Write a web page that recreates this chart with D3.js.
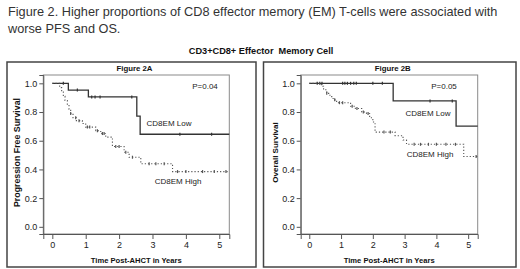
<!DOCTYPE html>
<html>
<head>
<meta charset="utf-8">
<script src="https://cdn.jsdelivr.net/npm/d3@7"></script>
<style>
  body { margin: 0; background: #fff; }
  svg { font-family: "Liberation Sans", Arial, sans-serif; }
</style>
</head>
<body>
<svg id="chart" width="520" height="269"></svg>
<script>
// ---- data ----
const headline = ["Figure 2. Higher proportions of CD8 effector memory (EM) T-cells were associated with",
                  "worse PFS and OS."]
const subtitle = "CD3+CD8+ Effector  Memory Cell"
const panelTitles = ["Figure 2A", "Figure 2B"]
const yTitles = ["Progression Free Survival", "Overall Survival"]
const xTitle = "Time Post-AHCT in Years"
const pValues = ["P=0.04", "P=0.05"]
const xTicks = [0, 1, 2, 3, 4, 5]
const yTicks = [0.0, 0.2, 0.4, 0.6, 0.8, 1.0]
const tMax = 5.3

// Figure 2A - PFS
const pfsLowTimes = [0, 0.48, 1.08, 2.53, 2.63]
const pfsLowSurv  = [1.0, 0.953, 0.905, 0.772, 0.645]
const pfsLowCens  = [0.33, 0.75, 1.18, 1.28, 1.43, 2.38, 3.82, 4.77]
const pfsHighTimes = [0, 0.22, 0.28, 0.33, 0.38, 0.45, 0.5, 0.55, 0.62, 0.72, 0.9, 1.0, 1.3, 1.45, 1.6, 1.8, 2.15, 2.3, 2.65, 3.6]
const pfsHighSurv  = [1.0, 0.97, 0.94, 0.91, 0.88, 0.85, 0.82, 0.79, 0.76, 0.74, 0.72, 0.695, 0.67, 0.65, 0.625, 0.56, 0.52, 0.485, 0.44, 0.385]
const pfsHighCens  = [0.55, 0.7, 0.8, 1.05, 1.12, 1.35, 1.5, 1.55, 1.9, 2.0, 2.2, 2.4, 2.9, 3.1, 3.35, 3.75, 4.0, 4.5, 4.85, 5.2]

// Figure 2B - OS
const osLowTimes = [0, 2.64, 4.62]
const osLowSurv  = [1.0, 0.877, 0.702]
const osLowCens  = [0.25, 0.33, 0.4, 1.05, 1.12, 1.2, 1.3, 1.4, 1.48, 2.0, 2.3, 3.8, 4.5]
const osHighTimes = [0, 0.38, 0.45, 0.55, 0.65, 0.75, 0.86, 1.3, 1.45, 1.65, 1.8, 1.9, 2.0, 2.07, 2.7, 2.95, 3.06, 4.86]
const osHighSurv  = [1.0, 0.98, 0.955, 0.93, 0.907, 0.885, 0.865, 0.84, 0.825, 0.8, 0.79, 0.76, 0.73, 0.66, 0.635, 0.605, 0.575, 0.49]
const osHighCens  = [0.55, 0.8, 0.95, 1.05, 1.35, 1.5, 1.7, 1.85, 2.35, 2.55, 3.3, 3.5, 3.75, 4.0, 4.3, 4.6, 5.25]

const groupLabels = ["CD8EM Low", "CD8EM High"]

// ---- layout ----
const panels = [
  { box: [7, 256], plot: [43.3, 229.3], yTitleSize: 8.8, yTitleX: 17,
    curves: [[pfsLowTimes, pfsLowSurv, pfsLowCens], [pfsHighTimes, pfsHighSurv, pfsHighCens]],
    labelPos: [[169, 123], [178, 181]], pPos: [205, 86] },
  { box: [263.5, 516], plot: [300.7, 477.7], yTitleSize: 8, yTitleX: 275,
    curves: [[osLowTimes, osLowSurv, osLowCens], [osHighTimes, osHighSurv, osHighCens]],
    labelPos: [[428, 113], [430, 154]], pPos: [444, 86] }
]
const boxTop = 62, boxBottom = 267
const plotTop = 75, plotBottom = 234

const svg = d3.select('#chart')

// headline - first line spans ~492px in the reference
const headTexts = svg.selectAll('text.headline').data(headline).join('text')
  .attr('class', 'headline')
  .attr('x', 8)
  .attr('y', (_, i) => 16 + 17 * i)
  .attr('fill', '#333')
  .style('font-size', '13px')
  .text(d => d)
const w0 = headTexts.node().getComputedTextLength()
headTexts.style('font-size', (13 * 490 / w0).toFixed(2) + 'px')

svg.append('text')
  .attr('x', 261).attr('y', 53.5)
  .attr('text-anchor', 'middle')
  .attr('fill', '#111')
  .style('font-size', '9.2px').style('font-weight', 'bold')
  .style('white-space', 'pre')
  .text(subtitle)

const y = d3.scaleLinear().domain([-0.05, 1.058]).range([plotBottom, plotTop])

// build step points from event times
function stepPoints(times, surv) {
  const pts = []
  times.forEach((t, i) => {
    if (i > 0) pts.push([t, surv[i - 1]])
    pts.push([t, surv[i]])
  })
  pts.push([tMax, surv[surv.length - 1]])
  return pts
}
function survAt(times, surv, t) {
  const i = d3.bisectRight(times, t) - 1
  return surv[Math.max(0, i)]
}

panels.forEach((p, k) => {
  const g = svg.append('g')
  const x = d3.scaleLinear().domain([-0.27, tMax]).range(p.plot)

  // outer panel box
  g.append('rect')
    .attr('x', p.box[0]).attr('y', boxTop)
    .attr('width', p.box[1] - p.box[0]).attr('height', boxBottom - boxTop)
    .attr('fill', '#fff').attr('stroke', '#444').attr('stroke-width', 1.5)

  // plot frame
  g.append('rect')
    .attr('x', p.plot[0]).attr('y', plotTop)
    .attr('width', p.plot[1] - p.plot[0]).attr('height', plotBottom - plotTop)
    .attr('fill', 'none').attr('stroke', '#8a8a8a').attr('stroke-width', 1)

  // axes
  const yAxis = d3.axisLeft(y).tickValues(yTicks).tickFormat(d3.format('.1f')).tickSize(4).tickPadding(2)
  g.append('g').attr('transform', `translate(${p.plot[0]},0)`).call(yAxis)
    .call(a => a.select('.domain').attr('stroke', '#555'))
    .call(a => a.selectAll('line').attr('stroke', '#555'))
    .call(a => a.selectAll('text').attr('fill', '#222').style('font-size', '9px'))

  const xAxis = d3.axisBottom(x).tickValues(xTicks).tickFormat(d3.format('d')).tickSize(5).tickPadding(3)
  g.append('g').attr('transform', `translate(0,${plotBottom})`).call(xAxis)
    .call(a => a.select('.domain').attr('stroke', '#555'))
    .call(a => a.selectAll('line').attr('stroke', '#555'))
    .call(a => a.selectAll('text').attr('fill', '#222').style('font-size', '9px'))

  // titles
  g.append('text')
    .attr('x', (p.box[0] + p.box[1]) / 2 + 3).attr('y', 71)
    .attr('text-anchor', 'middle').attr('fill', '#111')
    .style('font-size', '7.8px').style('font-weight', 'bold')
    .text(panelTitles[k])

  g.append('text')
    .attr('x', (p.plot[0] + p.plot[1]) / 2).attr('y', 263)
    .attr('text-anchor', 'middle').attr('fill', '#111')
    .style('font-size', '7.6px').style('font-weight', 'bold')
    .text(xTitle)

  g.append('text')
    .attr('transform', `translate(${p.yTitleX},${(plotTop + plotBottom) / 2 - 2}) rotate(-90)`)
    .attr('text-anchor', 'middle').attr('dy', '0.35em').attr('fill', '#111')
    .style('font-size', p.yTitleSize + 'px').style('font-weight', 'bold')
    .text(yTitles[k])

  g.append('text')
    .attr('x', p.pPos[0]).attr('y', p.pPos[1] + 3)
    .attr('text-anchor', 'middle').attr('fill', '#222')
    .style('font-size', '8px')
    .text(pValues[k])

  // curves
  const line = d3.line().x(d => x(d[0])).y(d => y(d[1]))
  p.curves.forEach((c, j) => {
    const [times, surv, cens] = c
    const color = j === 0 ? '#333' : '#555'
    g.append('path')
      .datum(stepPoints(times, surv))
      .attr('d', line)
      .attr('fill', 'none')
      .attr('stroke', color)
      .attr('stroke-width', j === 0 ? 1.3 : 1.1)
      .attr('stroke-dasharray', j === 0 ? null : '1.2,2')

    g.selectAll(null).data(cens).join('line')
      .attr('x1', d => x(d)).attr('x2', d => x(d))
      .attr('y1', d => y(survAt(times, surv, d)) - 1.5)
      .attr('y2', d => y(survAt(times, surv, d)) + 1.5)
      .attr('stroke', color).attr('stroke-width', 1.2)

    g.append('text')
      .attr('x', p.labelPos[j][0]).attr('y', p.labelPos[j][1] + 3)
      .attr('text-anchor', 'middle').attr('fill', '#222')
      .style('font-size', '8px')
      .text(groupLabels[j])
  })
})
</script>
</body>
</html>
